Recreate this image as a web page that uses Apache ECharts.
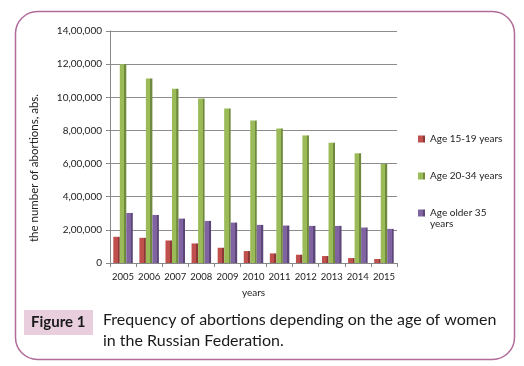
<!DOCTYPE html>
<html>
<head>
<meta charset="utf-8">
<script src="https://cdn.jsdelivr.net/npm/echarts@6/dist/echarts.min.js"></script>
<style>
html,body{margin:0;padding:0;background:#fff;}
#c{width:524px;height:366px;}
</style>
</head>
<body>
<div id="c"></div>
<script>
const years = ['2005','2006','2007','2008','2009','2010','2011','2012','2013','2014','2015'];
const age15_19 = [158000,152000,136000,118000,92000,72000,58000,50000,42000,30000,24000];
const age20_34 = [1200000,1114000,1052000,992000,932000,860000,812000,770000,726000,662000,598000];
const ageOlder35 = [302000,290000,268000,254000,244000,230000,226000,224000,224000,214000,206000];
const seriesNames = ['Age 15-19 years','Age 20-34 years','Age older 35 years'];
const yTicks = [0,200000,400000,600000,800000,1000000,1200000,1400000];

const FONT = 'Lato';
function indian(v){
  if(v===0) return '0';
  const s = String(v);
  const last3 = s.slice(-3);
  let rest = s.slice(0,-3);
  const parts = [];
  while(rest.length>2){parts.unshift(rest.slice(-2));rest=rest.slice(0,-2);}
  if(rest.length) parts.unshift(rest);
  return parts.join(',')+','+last3;
}
function grad(front, side){
  return {type:'linear',x:0,y:0,x2:1,y2:0,colorStops:[
    {offset:0,color:front},{offset:0.68,color:front},{offset:0.7,color:side},{offset:1,color:side}]};
}
const legendText = {fontFamily:FONT,fontSize:10,color:'#222'};
const chart = echarts.init(document.getElementById('c'));
chart.setOption({
  animation:false,
  backgroundColor:'#fff',
  textStyle:{fontFamily:FONT},
  grid:{left:110,right:127,top:31,bottom:103},
  xAxis:{
    type:'category',data:years,
    name:'years',nameLocation:'middle',nameGap:25,
    nameTextStyle:{fontFamily:FONT,fontSize:10,color:'#222'},
    axisLine:{lineStyle:{color:'#888'}},
    axisTick:{show:true,length:4,lineStyle:{color:'#888'}},
    axisLabel:{fontFamily:FONT,fontSize:9.5,color:'#222',margin:9,interval:0}
  },
  yAxis:{
    type:'value',min:yTicks[0],max:yTicks[yTicks.length-1],interval:200000,
    name:'the number of abortions, abs.',nameLocation:'middle',nameGap:70,nameRotate:90,
    nameTextStyle:{fontFamily:FONT,fontSize:11.5,color:'#222',padding:[0,42,0,0]},
    axisLine:{show:true,lineStyle:{color:'#888'}},
    axisTick:{show:true,length:4,lineStyle:{color:'#888'}},
    splitLine:{lineStyle:{color:'#8c8c8c',width:1}},
    axisLabel:{fontFamily:FONT,fontSize:10,color:'#222',margin:8,formatter:indian}
  },
  legend:[
    {orient:'vertical',left:418,top:134,padding:0,itemWidth:7,itemHeight:7,
     textStyle:legendText,icon:'rect',data:[{name:seriesNames[0]}]},
    {orient:'vertical',left:418,top:171,padding:0,itemWidth:7,itemHeight:7,
     textStyle:legendText,icon:'rect',data:[{name:seriesNames[1]}]},
    {orient:'vertical',left:418,top:208,padding:0,itemWidth:7,itemHeight:7,
     formatter:function(n){return n===seriesNames[2]?'Age older 35':n;},
     textStyle:legendText,icon:'rect',data:[{name:seriesNames[2]}]}
  ],
  series:[
    {name:seriesNames[0],type:'bar',data:age15_19,barWidth:6.5,barGap:'0%',
     itemStyle:{color:grad('#c0504d','#8c3836')}},
    {name:seriesNames[1],type:'bar',data:age20_34,barWidth:6.5,barGap:'0%',
     itemStyle:{color:grad('#9bbb59','#6f8a3c')}},
    {name:seriesNames[2],type:'bar',data:ageOlder35,barWidth:6.5,barGap:'0%',
     itemStyle:{color:grad('#8064a2','#5b4677')}}
  ],
  graphic:[
    {type:'rect',left:13,top:9,z:-10,silent:true,
     shape:{width:499,height:348,r:22},
     style:{fill:'none',stroke:'#b06b99',lineWidth:1.5}},
    {type:'text',left:430,top:219,silent:true,
     style:{text:'years',font:'10px '+FONT,fill:'#222'}},
    {type:'rect',left:24,top:310,silent:true,
     shape:{width:69,height:25},style:{fill:'#e9cfdd'}},
    {type:'text',left:31,top:315,silent:true,
     style:{text:'Figure 1',font:'bold 15px '+FONT,fill:'#1a1a1a'}},
    {type:'text',left:103,top:309,silent:true,
     style:{text:'Frequency of abortions depending on the age of women\nin the Russian Federation.',
       font:'16px '+FONT,lineHeight:21,fill:'#1a1a1a'}}
  ]
});
</script>
</body>
</html>
